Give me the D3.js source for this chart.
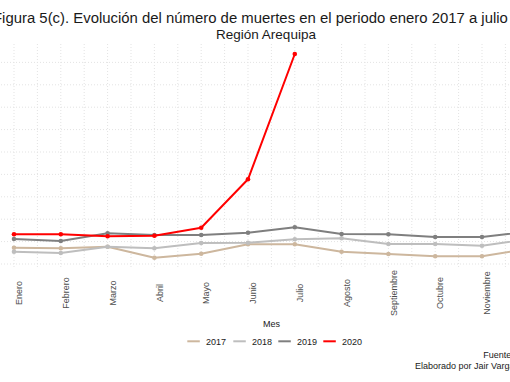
<!DOCTYPE html>
<html>
<head>
<meta charset="utf-8">
<script src="https://cdn.jsdelivr.net/npm/d3@7"></script>
<style>
  html, body { margin: 0; padding: 0; background: #fff; overflow: hidden; }
  svg { display: block; font-family: "Liberation Sans", Arial, sans-serif; }
</style>
</head>
<body>
<svg id="chart" width="510" height="382"></svg>
<script>
const months = ["Enero","Febrero","Marzo","Abril","Mayo","Junio","Julio","Agosto","Septiembre","Octubre","Noviembre","Diciembre"];
const years = ["2017","2018","2019","2020"];
const v2017 = [864, 850, 886, 641, 730, 940, 940, 775, 723, 672, 672, 844];
const v2018 = [775, 746, 886, 850, 969, 975, 1051, 1074, 946, 946, 908, 1058];
const v2019 = [1058, 1013, 1185, 1147, 1147, 1199, 1319, 1170, 1163, 1103, 1103, 1225];
const v2020 = [1163, 1163, 1118, 1132, 1310, 2391, 5188];
const yGridValues = [500, 1000, 1500, 2000, 2500, 3000, 3500, 4000, 4500, 5000];
const colors = ["#CDB79E", "#BEBEBE", "#7F7F7F", "#FF0000"];
const titleText = "Figura 5(c). Evolución del número de muertes en el periodo enero 2017 a julio 2020";
const subtitleText = "Región Arequipa";
const xTitle = "Mes";
const captionLines = ["Fuente: SINADEF", "Elaborado por Jair Vargas"];

const series = [v2017, v2018, v2019, v2020].map((vals, i) => ({
  year: years[i], color: colors[i],
  points: vals.map((v, j) => ({ month: months[j], value: v }))
}));

const svg = d3.select("#chart");
const panelTop = 44, panelBottom = 268;

const x = d3.scalePoint().domain(months).range([14, 528.8]);
const y = d3.scaleLinear().domain([0, 5000]).range([286.4, 62.4]);

const step = x.step();
const g = svg.append("g");

// grid
const grid = g.append("g").attr("stroke", "#e3e3e3").attr("stroke-dasharray", "1,2").attr("stroke-width", 1);
const vLines = [];
months.forEach(m => { vLines.push(x(m)); vLines.push(x(m) - step / 2); });
vLines.push(x(months[months.length - 1]) + step / 2);
grid.selectAll("line.v").data(vLines).enter().append("line")
  .attr("x1", d => d).attr("x2", d => d)
  .attr("y1", panelTop).attr("y2", panelBottom);
grid.selectAll("line.h").data(yGridValues).enter().append("line")
  .attr("x1", -20).attr("x2", 540)
  .attr("y1", d => y(d)).attr("y2", d => y(d));

// lines
const line = d3.line().x(d => x(d.month)).y(d => y(d.value));
const sg = g.selectAll("g.series").data(series).enter().append("g");
sg.append("path")
  .attr("d", d => line(d.points))
  .attr("fill", "none")
  .attr("stroke", d => d.color)
  .attr("stroke-width", 2)
  .attr("stroke-linejoin", "round");
sg.selectAll("circle").data(d => d.points.map(p => ({ ...p, color: d.color }))).enter().append("circle")
  .attr("cx", d => x(d.month)).attr("cy", d => y(d.value))
  .attr("r", 2.3).attr("fill", d => d.color);

// x-axis labels
const xa = g.append("g");
xa.selectAll("text").data(months).enter().append("text")
  .attr("transform", d => `translate(${x(d) + 5},293) rotate(-90)`)
  .attr("text-anchor", "middle")
  .attr("dy", "0.35em")
  .attr("font-size", 9)
  .attr("fill", "#4d4d4d")
  .text(d => d);

// axis title
svg.append("text").attr("x", 271.5).attr("y", 327).attr("text-anchor", "middle")
  .attr("font-size", 9).attr("fill", "#1a1a1a").text(xTitle);

// title & subtitle
svg.append("text").attr("x", -7).attr("y", 23).attr("font-size", 14.9)
  .attr("fill", "#1a1a1a").text(titleText);
svg.append("text").attr("x", 266).attr("y", 38.5).attr("text-anchor", "middle")
  .attr("font-size", 13.5).attr("fill", "#1a1a1a").text(subtitleText);

// legend
const legendX = [187.3, 233.3, 278.3, 323.3];
const lg = svg.append("g");
const items = lg.selectAll("g").data(series).enter().append("g")
  .attr("transform", (d, i) => `translate(${legendX[i]},341.3)`);
items.append("line").attr("x1", 0).attr("x2", 12.5).attr("y1", 0).attr("y2", 0)
  .attr("stroke", d => d.color).attr("stroke-width", 2);
items.append("text").attr("x", 18.7).attr("y", 4).attr("font-size", 9)
  .attr("fill", "#1a1a1a").text(d => d.year);

// caption
svg.append("text").attr("x", 483.3).attr("y", 358).attr("font-size", 9).attr("fill", "#1a1a1a").text(captionLines[0]);
svg.append("text").attr("x", 415).attr("y", 368.5).attr("font-size", 9).attr("fill", "#1a1a1a").text(captionLines[1]);
</script>
</body>
</html>
